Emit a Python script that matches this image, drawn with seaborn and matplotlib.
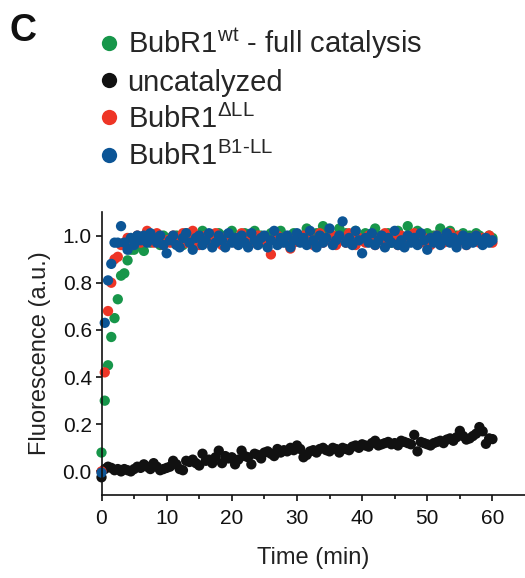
import matplotlib
matplotlib.use("Agg")
import matplotlib.pyplot as plt
import numpy as np
import pandas as pd
import seaborn as sns

# sampling every 30 s over one hour
TIME = np.arange(0, 60.5, 0.5)

WT = [
    0.08, 0.30, 0.45, 0.57, 0.65, 0.73, 0.83, 0.84, 0.895,
    0.94, 0.94, 0.96, 0.98, 0.935, 0.99, 0.97, 1.00, 0.98, 0.96, 1.00, 0.99,
    0.98, 0.97, 1.00, 0.99, 0.96, 1.01, 0.98, 0.99, 1.00, 0.97,
    1.02, 0.99, 0.98, 1.00, 0.97, 1.01, 0.99, 1.00, 0.98, 1.02,
    0.99, 0.97, 1.00, 1.01, 0.98, 0.99, 1.02, 0.98, 1.00, 0.97,
    0.99, 1.01, 1.00, 0.98, 1.02, 0.99, 0.97, 1.00, 1.01, 0.99,
    1.00, 0.98, 1.03, 0.99, 0.97, 1.01, 1.00, 1.04, 1.02, 0.99,
    1.00, 0.97, 1.03, 0.99, 1.01, 0.98, 1.00, 1.02, 0.99, 0.98,
    1.01, 0.99, 1.00, 1.03, 0.98, 1.00, 0.99, 1.01, 0.97, 1.00,
    1.02, 0.99, 0.98, 1.04, 1.00, 0.99, 1.02, 0.98, 1.00, 1.01,
    0.99, 1.00, 0.98, 1.03, 1.00, 0.99, 1.02, 0.98, 1.00, 0.99,
    1.01, 0.98, 1.00, 0.99, 1.01, 1.00, 0.98, 0.99, 1.00, 0.99,
]

UNCAT = [
    -0.025, 0.01, 0.02, 0.015, 0.005, 0.01, 0.00, 0.01, 0.005, 0.00,
    0.01, 0.02, 0.015, 0.03, 0.02, 0.01, 0.035, 0.02, 0.005, 0.01,
    0.015, 0.02, 0.045, 0.03, 0.01, 0.005, 0.045, 0.04, 0.05, 0.035,
    0.025, 0.075, 0.045, 0.05, 0.035, 0.06, 0.088, 0.035, 0.065, 0.055,
    0.06, 0.03, 0.05, 0.088, 0.065, 0.06, 0.03, 0.075, 0.07, 0.055,
    0.08, 0.085, 0.075, 0.065, 0.095, 0.08, 0.09, 0.085, 0.10, 0.09,
    0.11, 0.095, 0.06, 0.07, 0.085, 0.09, 0.08, 0.095, 0.10, 0.09,
    0.085, 0.10, 0.095, 0.08, 0.10, 0.095, 0.09, 0.105, 0.11, 0.10,
    0.115, 0.11, 0.105, 0.12, 0.13, 0.11, 0.115, 0.12, 0.125, 0.115,
    0.12, 0.11, 0.13, 0.125, 0.12, 0.115, 0.155, 0.085, 0.125, 0.12,
    0.115, 0.11, 0.12, 0.125, 0.13, 0.12, 0.135, 0.14, 0.13, 0.145,
    0.172, 0.15, 0.135, 0.14, 0.15, 0.16, 0.188, 0.17, 0.117, 0.14,
    0.137,
]

DLL = [
    0.00, 0.42, 0.68, 0.80, 0.90, 0.91, 0.96, 0.97, 0.99,
    0.96, 0.98, 1.00, 0.97, 0.99, 1.02, 0.98, 0.97, 1.01, 0.99, 0.96, 0.98,
    0.97, 1.00, 0.98, 0.99, 1.01, 0.97, 0.98, 1.02, 0.99, 0.96,
    0.98, 1.00, 0.97, 0.99, 1.01, 0.98, 0.96, 0.99, 1.00, 0.98,
    0.97, 0.99, 1.01, 0.98, 0.96, 0.99, 0.97, 1.00, 0.98, 0.99,
    0.97, 0.92, 0.98, 1.00, 0.97, 0.99, 0.98, 0.945, 0.97, 1.00,
    0.98, 1.00, 0.97, 0.99, 0.96, 0.98, 1.01, 0.97, 0.99, 0.98,
    1.00, 0.96, 0.98, 0.99, 0.97, 1.01, 0.98, 0.96, 0.99, 0.98,
    0.97, 1.00, 0.98, 0.96, 0.99, 0.98, 1.01, 0.97, 0.99, 0.98,
    0.96, 1.00, 0.98, 0.97, 0.99, 1.01, 0.98, 0.97, 0.99, 0.98,
    0.96, 0.99, 1.00, 0.98, 0.97, 0.99, 1.01, 0.98, 0.97, 1.00,
    0.98, 0.96, 0.99, 0.98, 1.00, 0.97, 0.99, 0.98, 1.00, 0.97,
]

B1LL = [
    -0.005, 0.63, 0.81, 0.88, 0.97, 0.97, 1.04, 0.97, 0.94,
    0.99, 0.96, 1.00, 0.98, 1.00, 0.97, 1.01, 0.99, 0.97, 1.00, 0.96, 0.925,
    0.98, 1.00, 0.96, 0.95, 0.99, 1.01, 0.97, 0.94, 0.99, 1.00,
    0.96, 0.98, 1.01, 0.95, 0.97, 1.00, 0.98, 0.95, 1.01, 0.97,
    0.99, 0.96, 1.00, 0.97, 0.95, 1.01, 0.98, 0.96, 0.99, 1.00,
    0.95, 0.98, 1.02, 0.96, 0.99, 0.97, 1.00, 0.95, 0.98, 1.01,
    0.97, 0.99, 0.96, 1.02, 0.98, 0.95, 1.00, 0.97, 0.99, 1.03,
    0.96, 0.98, 1.00, 1.06, 0.97, 0.99, 0.96, 1.02, 0.98, 0.925,
    0.99, 0.97, 1.01, 0.96, 0.98, 1.00, 0.95, 0.99, 0.97, 1.02,
    0.96, 0.98, 0.95, 1.00, 0.97, 0.99, 0.96, 1.01, 0.98, 0.94,
    0.99, 0.97, 1.00, 0.96, 0.98, 1.01, 0.97, 0.99, 0.95, 0.98,
    1.00, 0.96, 0.99, 0.97, 1.00, 0.98, 0.96, 0.99, 0.97, 0.98,
]

LABELS = [
    r"BubR1$^{\mathrm{wt}}$ - full catalysis",
    "uncatalyzed",
    r"BubR1$^{\mathrm{\Delta LL}}$",
    r"BubR1$^{\mathrm{B1}\text{-}\mathrm{LL}}$",
]
COLORS = ["#17964a", "#111111", "#ee3526", "#0c5596"]

for name, series in zip(LABELS, [WT, UNCAT, DLL, B1LL]):
    assert len(series) == len(TIME), (name, len(series))

df = pd.concat(
    [
        pd.DataFrame({"time": TIME, "fluor": vals, "cond": lab})
        for lab, vals in zip(LABELS, [WT, UNCAT, DLL, B1LL])
    ],
    ignore_index=True,
)

sns.set_theme(style="ticks")
plt.rcParams["font.family"] = ["Liberation Sans", "DejaVu Sans"]
plt.rcParams["mathtext.fontset"] = "custom"
plt.rcParams["mathtext.rm"] = "Liberation Sans"
plt.rcParams["mathtext.default"] = "regular"

fig = plt.figure(figsize=(5.25, 5.78), dpi=100)
ax = fig.add_axes([101.5 / 525, 83 / 578, 423.5 / 525, 283 / 578])

sns.scatterplot(
    data=df, x="time", y="fluor", hue="cond", hue_order=LABELS,
    palette=COLORS, s=55, linewidth=0, ax=ax, clip_on=False, legend=True,
)

ax.set_xlim(0, 65)
ax.set_ylim(-0.1, 1.1)
ax.set_xticks(range(0, 61, 10))
ax.set_xticks(range(5, 61, 10), minor=True)
ax.set_yticks([0, 0.2, 0.4, 0.6, 0.8, 1.0])
ax.set_yticklabels(["0.0", "0.2", "0.4", "0.6", "0.8", "1.0"])
sns.despine(ax=ax)
for sp in ["left", "bottom"]:
    ax.spines[sp].set_linewidth(1.2)
    ax.spines[sp].set_color("#111111")
ax.tick_params(which="major", length=4, width=1.2, labelsize=15, colors="#111111", pad=3)
ax.tick_params(axis="x", which="minor", length=3, width=1.2, color="#111111")
ax.tick_params(axis="x", pad=6)

ax.set_xlabel("Time (min)", fontsize=17, color="#222222", labelpad=14)
ax.set_ylabel("Fluorescence (a.u.)", fontsize=17, color="#222222", labelpad=8)

handles, labels = ax.get_legend_handles_labels()
ax.get_legend().remove()
for h in handles:
    h.set_markersize(11)
fig.legend(
    handles, labels, loc="upper left", bbox_to_anchor=(0.168, 0.976),
    frameon=False, fontsize=21, handlelength=0.6, handletextpad=0.35,
    labelspacing=0.27, borderaxespad=0,
)

fig.text(0.018, 0.978, "C", fontsize=27, fontweight="bold", va="top", color="#111111")

fig.savefig("out.png", dpi=100)
